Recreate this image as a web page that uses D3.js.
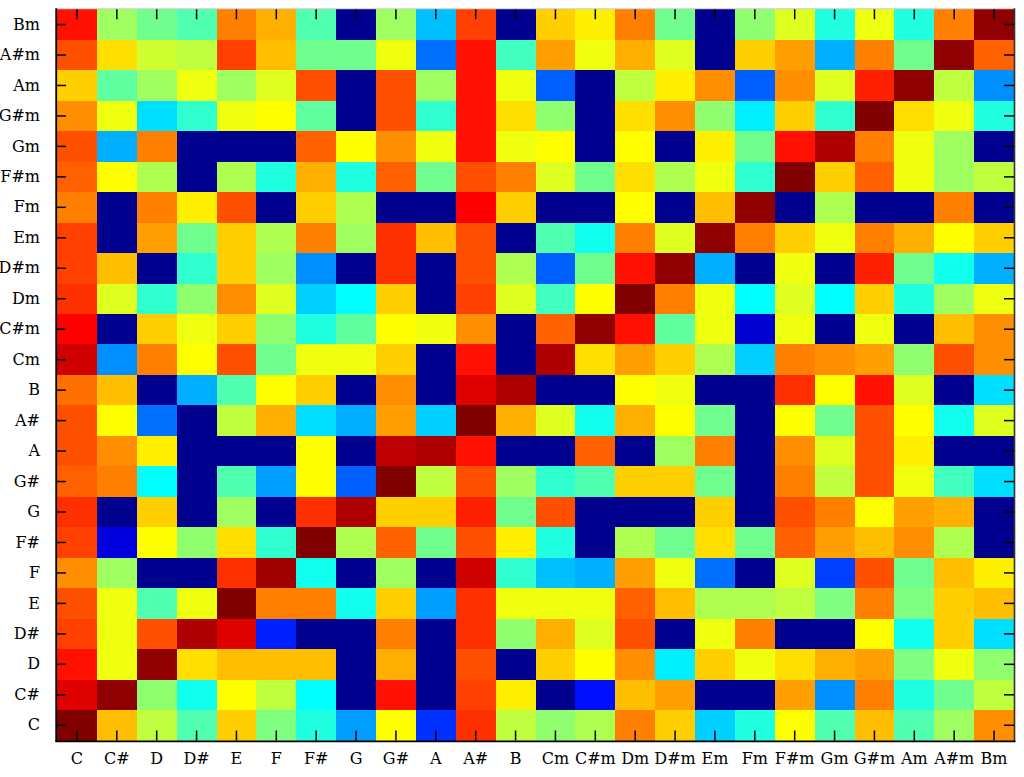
<!DOCTYPE html>
<html><head><meta charset="utf-8">
<script src="https://cdn.jsdelivr.net/npm/d3@7"></script>
<style>
body{margin:0;background:#fff}
svg{display:block}
text{font-family:"DejaVu Serif","Liberation Serif",serif;}
</style>
</head><body><svg id="chart" width="1024" height="777"></svg>
<script>
const colLabels = ["C","C#","D","D#","E","F","F#","G","G#","A","A#","B","Cm","C#m","Dm","D#m","Em","Fm","F#m","Gm","G#m","Am","A#m","Bm"];
const rowLabels = ["Bm","A#m","Am","G#m","Gm","F#m","Fm","Em","D#m","Dm","C#m","Cm","B","A#","A","G#","G","F#","F","E","D#","D","C#","C"];
// values: rows top-to-bottom (same order as rowLabels), columns as colLabels
const values = [
 [0.86,0.52,0.47,0.44,0.75,0.70,0.44,0,0.52,0.30,0.81,0,0.66,0.64,0.74,0.48,0,0.50,0.59,0.39,0.60,0.39,0.75,0.98],
 [0.80,0.65,0.57,0.56,0.81,0.68,0.47,0.48,0.61,0.23,0.85,0.43,0.71,0.61,0.70,0.59,0,0.66,0.71,0.28,0.74,0.48,0.98,0.77],
 [0.66,0.46,0.52,0.60,0.53,0.58,0.79,0,0.79,0.53,0.85,0.61,0.21,0,0.56,0.64,0.73,0.20,0.73,0.58,0.84,0.98,0.56,0.26],
 [0.73,0.60,0.33,0.41,0.60,0.625,0.46,0,0.79,0.41,0.85,0.65,0.50,0,0.65,0.73,0.50,0.35,0.66,0.42,1.0,0.65,0.60,0.39],
 [0.80,0.28,0.75,0,0,0,0.77,0.62,0.73,0.61,0.85,0.61,0.625,0,0.62,0,0.64,0.47,0.86,0.96,0.75,0.60,0.52,0],
 [0.77,0.625,0.54,0,0.54,0.40,0.70,0.39,0.77,0.47,0.80,0.75,0.58,0.48,0.65,0.54,0.60,0.42,1.0,0.67,0.77,0.60,0.52,0.56],
 [0.75,0,0.75,0.64,0.79,0,0.67,0.54,0,0,0.875,0.66,0,0,0.62,0,0.69,0.98,0,0.54,0,0,0.74,0],
 [0.81,0,0.71,0.47,0.66,0.54,0.74,0.53,0.82,0.68,0.80,0,0.44,0.375,0.74,0.58,0.98,0.74,0.66,0.60,0.74,0.70,0.625,0.66],
 [0.81,0.69,0,0.42,0.66,0.53,0.25,0,0.82,0,0.79,0.54,0.20,0.47,0.85,0.98,0.28,0,0.60,0,0.84,0.47,0.375,0.29],
 [0.83,0.59,0.41,0.50,0.73,0.59,0.31,0.36,0.66,0,0.81,0.58,0.43,0.625,1.0,0.75,0.60,0.36,0.58,0.37,0.67,0.39,0.53,0.61],
 [0.875,0,0.67,0.61,0.66,0.50,0.39,0.46,0.62,0.61,0.73,0,0.77,0.98,0.86,0.46,0.60,0.07,0.60,0,0.60,0,0.69,0.73],
 [0.92,0.25,0.75,0.625,0.79,0.47,0.60,0.60,0.66,0,0.86,0,0.95,0.65,0.71,0.66,0.54,0.32,0.74,0.73,0.71,0.50,0.79,0.73],
 [0.76,0.68,0,0.29,0.45,0.625,0.66,0,0.73,0,0.90,0.96,0,0,0.625,0.61,0,0,0.83,0.62,0.85,0.58,0,0.34],
 [0.79,0.625,0.22,0,0.56,0.70,0.34,0.29,0.71,0.32,1.0,0.70,0.58,0.375,0.70,0.62,0.48,0,0.62,0.47,0.79,0.62,0.375,0.58],
 [0.80,0.73,0.64,0,0,0,0.625,0,0.93,0.95,0.85,0,0,0.77,0,0.53,0.75,0,0.73,0.58,0.80,0.64,0,0],
 [0.77,0.74,0.36,0,0.45,0.27,0.625,0.21,1.0,0.56,0.80,0.53,0.42,0.44,0.66,0.66,0.47,0,0.74,0.56,0.80,0.61,0.43,0.33],
 [0.83,0,0.67,0,0.53,0,0.83,0.96,0.67,0.66,0.84,0.48,0.80,0,0,0,0.67,0,0.80,0.75,0.62,0.71,0.70,0],
 [0.81,0.08,0.625,0.50,0.65,0.42,1.0,0.54,0.77,0.48,0.80,0.64,0.39,0,0.54,0.47,0.65,0.48,0.77,0.71,0.69,0.73,0.54,0],
 [0.73,0.53,0,0,0.83,0.97,0.375,0,0.53,0,0.92,0.41,0.30,0.29,0.71,0.60,0.22,0,0.58,0.18,0.80,0.47,0.68,0.64],
 [0.79,0.61,0.44,0.61,1.0,0.74,0.74,0.375,0.67,0.27,0.82,0.60,0.60,0.60,0.77,0.69,0.54,0.54,0.56,0.49,0.74,0.49,0.66,0.69],
 [0.81,0.60,0.80,0.96,0.90,0.15,0,0,0.75,0,0.83,0.50,0.70,0.59,0.79,0,0.60,0.75,0,0,0.62,0.375,0.66,0.33],
 [0.85,0.61,0.98,0.65,0.69,0.69,0.69,0,0.70,0,0.80,0,0.66,0.625,0.73,0.35,0.67,0.60,0.65,0.70,0.71,0.49,0.61,0.50],
 [0.90,0.98,0.50,0.375,0.62,0.56,0.36,0,0.85,0,0.81,0.64,0,0.125,0.69,0.71,0,0,0.71,0.25,0.74,0.39,0.48,0.56],
 [1.0,0.69,0.56,0.44,0.66,0.49,0.40,0.27,0.62,0.16,0.82,0.56,0.50,0.54,0.75,0.66,0.31,0.39,0.62,0.44,0.69,0.44,0.53,0.73]
];

// MATLAB-style jet(64) colormap
function jet64() {
  const n = 16, u = [];
  for (let i = 1; i <= n; i++) u.push(i / n);
  for (let i = 0; i < n - 1; i++) u.push(1);
  for (let i = n; i >= 1; i--) u.push(i / n);
  const get = j => (j >= 1 && j <= u.length) ? u[j - 1] : 0;
  const out = [];
  for (let K = 1; K <= 64; K++) {
    out.push(d3.rgb(Math.round(get(K - 24) * 255), Math.round(get(K - 8) * 255), Math.round(get(K + 8) * 255)).formatHex());
  }
  return out;
}
const color = d3.scaleQuantize().domain([-0.5 / 63, 1 + 0.5 / 63]).range(jet64());

const L = 57, R = 1014, T = 9.3, B = 740.5;
const svg = d3.select("#chart");
const x = d3.scaleBand().domain(colLabels).range([L, R]).padding(0);
const y = d3.scaleBand().domain(rowLabels).range([T, B]).padding(0);

const cells = [];
values.forEach((row, ri) => row.forEach((v, ci) => cells.push({r: rowLabels[ri], c: colLabels[ci], v})));

svg.append("g").selectAll("rect").data(cells).join("rect")
  .attr("x", d => x(d.c))
  .attr("y", d => y(d.r))
  .attr("width", x.bandwidth() + 0.6)
  .attr("height", y.bandwidth() + 0.6)
  .attr("fill", d => color(d.v))
  .attr("shape-rendering", "crispEdges");

// frame
svg.append("line").attr("x1", L - 1).attr("x2", R + 1).attr("y1", T - 0.5).attr("y2", T - 0.5).attr("stroke", "#c8c8c8").attr("stroke-width", 1);
svg.append("line").attr("x1", R + 0.5).attr("x2", R + 0.5).attr("y1", T - 1).attr("y2", B + 1).attr("stroke", "#333").attr("stroke-width", 1.6);
svg.append("line").attr("x1", L - 0.8).attr("x2", L - 0.8).attr("y1", T - 1).attr("y2", B + 1.5).attr("stroke", "#000").attr("stroke-width", 1.8);
svg.append("line").attr("x1", L - 1.5).attr("x2", R + 1.5).attr("y1", B + 0.8).attr("y2", B + 0.8).attr("stroke", "#000").attr("stroke-width", 1.8);

function styleAxis(g) {
  g.select(".domain").remove();
  g.selectAll(".tick line").attr("stroke", "#000").attr("stroke-width", 1.5);
  g.selectAll(".tick text").attr("fill", "#000").style("font-size", "16px").style("font-family", '"DejaVu Serif","Liberation Serif",serif');
}

svg.append("g").attr("transform", `translate(${L},0)`)
  .call(d3.axisLeft(y).tickSizeInner(-9).tickSizeOuter(0).tickPadding(17))
  .call(styleAxis);
svg.append("g").attr("transform", `translate(${R},0)`)
  .call(d3.axisRight(y).tickSizeInner(-10).tickSizeOuter(0).tickFormat(""))
  .call(styleAxis);
svg.append("g").attr("transform", `translate(0,${B})`)
  .call(d3.axisBottom(x).tickSizeInner(-10).tickSizeOuter(0).tickPadding(12))
  .call(styleAxis);
svg.append("g").attr("transform", `translate(0,${T})`)
  .call(d3.axisTop(x).tickSizeInner(-10).tickSizeOuter(0).tickFormat(""))
  .call(styleAxis);
</script>
</body></html>
